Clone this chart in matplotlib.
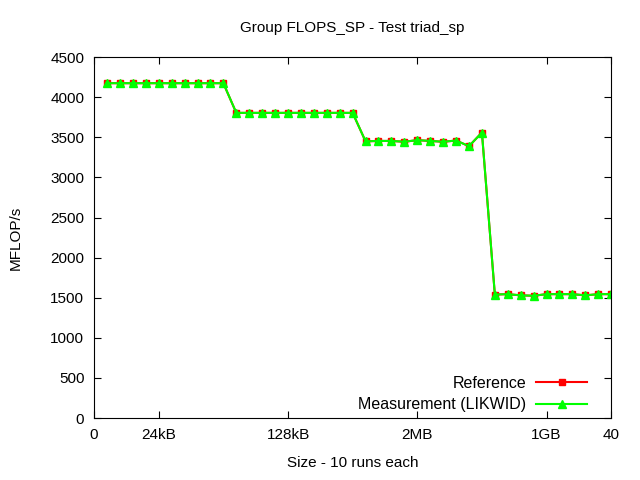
import matplotlib
matplotlib.use("Agg")
import matplotlib.pyplot as plt

plt.rcParams['font.family'] = ['Liberation Sans', 'DejaVu Sans']

# run index (1..40), 10 runs per size
runs = list(range(1, 41))
reference = [4175, 4175, 4175, 4175, 4175, 4175, 4175, 4175, 4175, 4175,
             3805, 3805, 3805, 3805, 3805, 3805, 3805, 3805, 3805, 3805,
             3450, 3455, 3455, 3445, 3465, 3455, 3445, 3460, 3390, 3560,
             1540, 1545, 1530, 1525, 1545, 1545, 1545, 1530, 1545, 1545]
measurement = list(reference)

tick_pos = [0, 5, 15, 25, 35, 40]
tick_labels = ['0', '24kB', '128kB', '2MB', '1GB', '40']

fig = plt.figure(figsize=(6.4, 4.8), dpi=100)
ax = fig.add_axes([0.147, 0.129, 0.808, 0.752])

ax.plot(runs, reference, color='#ff0000', marker='s', markersize=5, linewidth=1.5,
        label='Reference')
ax.plot(runs, measurement, color='#00ff00', marker='^', markersize=6, linewidth=1.5,
        label='Measurement (LIKWID)')

ax.set_xlim(0, 40)
ax.set_ylim(0, 4500)
ax.set_xticks(tick_pos)
ax.set_xticklabels(tick_labels)
ax.set_yticks(range(0, 4501, 500))
ax.tick_params(direction='in', top=True, right=True, labelsize=11, length=5, pad=7)

ax.set_title('Group FLOPS_SP - Test triad_sp', fontsize=11, pad=18)
ax.set_xlabel('Size - 10 runs each', fontsize=11, labelpad=10)
ax.set_ylabel('MFLOP/s', fontsize=11, labelpad=20)

ax.legend(loc='lower right', bbox_to_anchor=(0.975, -0.015), frameon=False,
          markerfirst=False, fontsize=11.5, handlelength=3.2, handletextpad=0.6,
          borderaxespad=0.3, labelspacing=0.4)

fig.savefig('out.png', dpi=100)
